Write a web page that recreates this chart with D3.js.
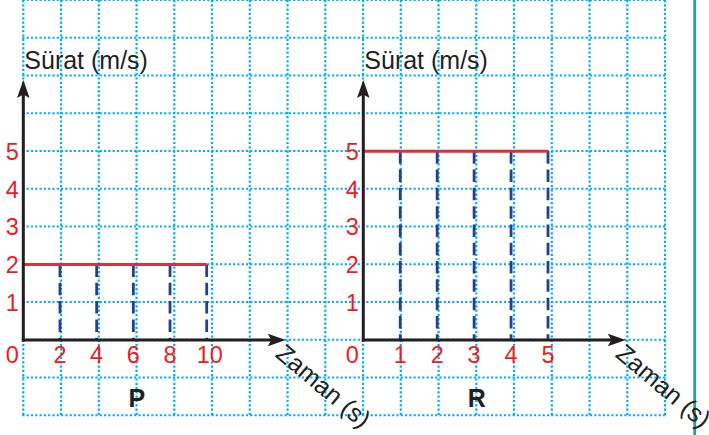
<!DOCTYPE html>
<html>
<head>
<meta charset="utf-8">
<script src="https://cdn.jsdelivr.net/npm/d3@7"></script>
<style>
  html, body { margin: 0; padding: 0; background: #fff; }
  svg { display: block; }
  text { font-family: "Liberation Sans", Arial, sans-serif; }
</style>
</head>
<body>
<svg id="chart" width="709" height="435"></svg>
<script>
// ---- data ----
const panelNames = ["P", "R"];
const pTime  = [0, 2, 4, 6, 8, 10];
const pSpeed = [2, 2, 2, 2, 2, 2];
const rTime  = [0, 1, 2, 3, 4, 5];
const rSpeed = [5, 5, 5, 5, 5, 5];
const pXTicks = [0, 2, 4, 6, 8, 10];
const rXTicks = [0, 1, 2, 3, 4, 5];
const yTicks  = [1, 2, 3, 4, 5];
const yLabel = "Sürat (m/s)";
const xLabel = "Zaman (s)";

// ---- layout ----
const W = 709, H = 435;
const cell = 37.75;
const gridLeft = 23.3, gridCols = 17, gridRows = 11;
const svg = d3.select("#chart");

// background grid
const gx = d3.scaleLinear().domain([0, gridCols]).range([gridLeft, gridLeft + gridCols * cell]);
const gy = d3.scaleLinear().domain([0, gridRows]).range([0, gridRows * cell]);
const grid = svg.append("g")
  .attr("stroke", "#00aeef").attr("stroke-width", 2.2).attr("stroke-dasharray", "2.2 2.1");
grid.selectAll("line.v").data(d3.range(gridCols + 1)).join("line")
  .attr("x1", d => gx(d)).attr("x2", d => gx(d))
  .attr("y1", gy(0)).attr("y2", gy(gridRows) + 1);
grid.selectAll("line.h").data(d3.range(gridRows + 1)).join("line")
  .attr("y1", d => gy(d)).attr("y2", d => gy(d))
  .attr("x1", gx(0) - 1).attr("x2", gx(gridCols) + 1);

// green margin line
svg.append("line").attr("x1", 694.7).attr("x2", 694.7).attr("y1", 0).attr("y2", H)
  .attr("stroke", "#2f9f8b").attr("stroke-width", 2.8);

const panels = [
  { name: panelNames[0], time: pTime, speed: pSpeed, ticks: pXTicks, ox: 23.3, xMax: 10, xEnd: 206.7 },
  { name: panelNames[1], time: rTime, speed: rSpeed, ticks: rXTicks, ox: 363.3, xMax: 5, xEnd: 548 }
];
const oy = 340;
const y = d3.scaleLinear().domain([0, 5]).range([oy, oy - 5 * cell]);

function arrowPath(len, half, notch) {
  return `M0,0 L${-len},${-half} L${-len + notch},0 L${-len},${half} Z`;
}

panels.forEach(p => {
  const x = d3.scaleLinear().domain([0, p.xMax]).range([p.ox, p.xEnd]);
  const g = svg.append("g");

  // dashed drop lines
  g.selectAll("line.drop").data(p.time.filter(t => t > 0).map((t, i) => ({ t, v: p.speed[i + 1] })))
    .join("line")
    .attr("x1", d => x(d.t)).attr("x2", d => x(d.t))
    .attr("y1", d => y(d.v)).attr("y2", y(0))
    .attr("stroke", "#253f8f").attr("stroke-width", 2.8).attr("stroke-dasharray", "12.5 5.8");

  // speed line
  const line = d3.line().x((d, i) => x(p.time[i])).y(d => y(d));
  g.append("path").attr("d", line(p.speed))
    .attr("fill", "none").attr("stroke", "#d3343c").attr("stroke-width", 3);

  // axes
  const yTip = 80, xTip = p.ox + 262.5;
  g.append("line").attr("x1", p.ox).attr("x2", p.ox).attr("y1", oy + 1.5).attr("y2", yTip + 10)
    .attr("stroke", "#231f20").attr("stroke-width", 3);
  g.append("line").attr("x1", p.ox - 1.5).attr("x2", xTip - 10).attr("y1", oy).attr("y2", oy)
    .attr("stroke", "#231f20").attr("stroke-width", 3);
  g.append("path").attr("d", arrowPath(18, 6.3, 3.5))
    .attr("transform", `translate(${p.ox},${yTip}) rotate(-90)`).attr("fill", "#231f20");
  g.append("path").attr("d", arrowPath(18, 6.3, 3.5))
    .attr("transform", `translate(${xTip},${oy})`).attr("fill", "#231f20");

  // y tick labels
  g.selectAll("text.yt").data(yTicks).join("text")
    .attr("x", p.ox - 11).attr("y", d => y(d) + 8.5)
    .attr("text-anchor", "middle").attr("font-size", 23.5).attr("fill", "#ed1c24")
    .text(d => d);
  // x tick labels
  g.selectAll("text.xt").data(p.ticks).join("text")
    .attr("x", d => d === 0 ? p.ox - 11 : x(d) + (d >= 10 ? 3 : 0)).attr("y", oy + 23)
    .attr("text-anchor", "middle").attr("font-size", 23.5).attr("fill", "#ed1c24")
    .text(d => d);

  // axis titles
  g.append("text").attr("x", p.ox + 1).attr("y", 69.3)
    .attr("font-size", 25).attr("fill", "#231f20").text(yLabel);
  g.append("text").attr("transform", `translate(${p.ox + 251},${oy + 16}) rotate(40)`)
    .attr("font-size", 25).attr("fill", "#231f20").text(xLabel);

  // panel name
  g.append("text").attr("x", p.ox + 113.5).attr("y", 406.5)
    .attr("text-anchor", "middle").attr("font-size", 25).attr("font-weight", "bold")
    .attr("fill", "#231f20").text(p.name);
});
</script>
</body>
</html>
